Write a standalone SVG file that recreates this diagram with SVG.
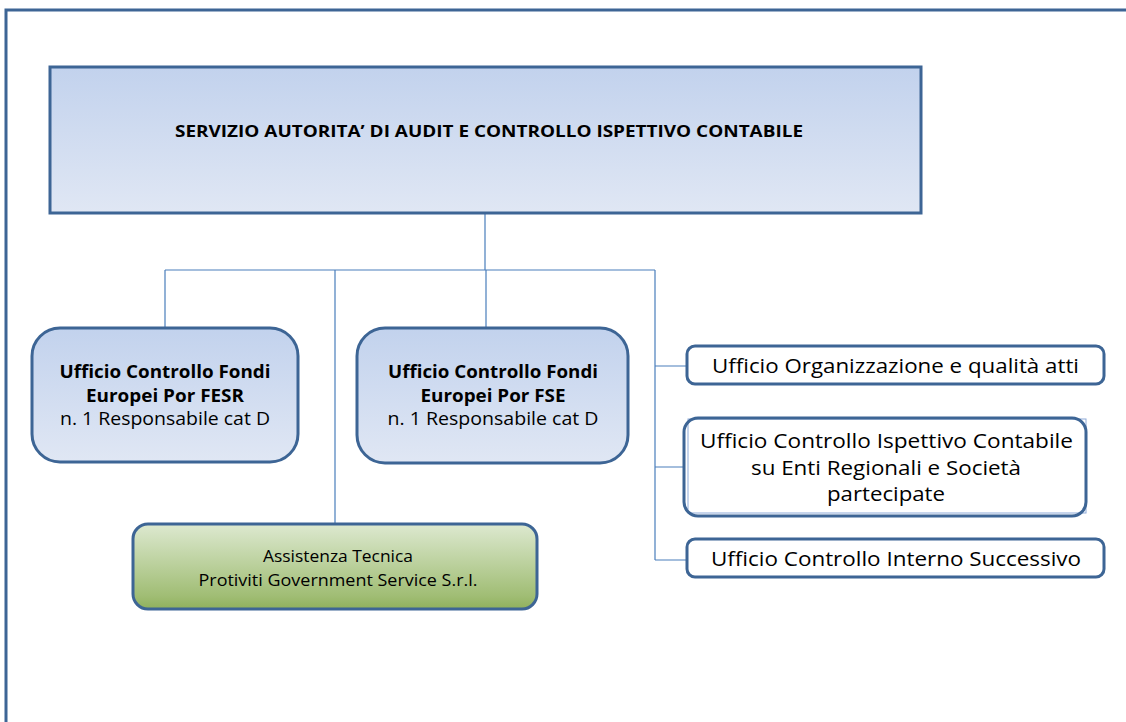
<svg xmlns="http://www.w3.org/2000/svg" width="1126" height="722" viewBox="0 0 1126 722">
<defs>
<linearGradient id="gBlue" x1="0" y1="0" x2="0" y2="1"><stop offset="0" stop-color="#c2d2ed"/><stop offset="1" stop-color="#e0e7f4"/></linearGradient>
<linearGradient id="gGreen" x1="0" y1="0" x2="0" y2="1"><stop offset="0" stop-color="#dde9d0"/><stop offset="0.85" stop-color="#a0bd74"/><stop offset="1" stop-color="#8fb05c"/></linearGradient>
<style>
.frame{fill:none;stroke:#3d6595;stroke-width:3}
.box{stroke:#3d6595;stroke-width:3}
.conn{fill:none;stroke:#4a7ebb;stroke-width:1.2}
.t{font-family:"Open Sans","Liberation Sans",sans-serif;fill:#000;text-anchor:middle}
.b{font-weight:bold}
</style>
</defs>
<rect width="1126" height="722" fill="#fff"/>
<rect class="frame" x="6" y="10" width="1140" height="730"/>
<g id="connectors">
<path class="conn" d="M485,213 V270 M165,270 H655 M165,270 V328 M335,270 V524 M486,270 V328 M655,270 V560 M655,366 H687 M655,467 H684 M655,560 H687"/>
</g>
<g id="n-servizio">
<rect class="box" x="50" y="67" width="871" height="146" fill="url(#gBlue)"/>
<text class="t b" x="489" y="137" font-size="16.5" textLength="628" lengthAdjust="spacingAndGlyphs">SERVIZIO AUTORITA’ DI AUDIT E CONTROLLO ISPETTIVO CONTABILE</text>
</g>
<g id="n-fesr">
<rect class="box" x="32" y="328" width="266" height="134" rx="28" fill="url(#gBlue)"/>
<text class="t b" x="165" y="378" font-size="17.5" textLength="211" lengthAdjust="spacingAndGlyphs">Ufficio Controllo Fondi</text>
<text class="t b" x="165" y="402" font-size="17.5" textLength="158" lengthAdjust="spacingAndGlyphs">Europei Por FESR</text>
<text class="t" x="165" y="425" font-size="17.5" textLength="210" lengthAdjust="spacingAndGlyphs">n. 1 Responsabile cat D</text>
</g>
<g id="n-fse">
<rect class="box" x="357" y="328" width="271" height="135" rx="28" fill="url(#gBlue)"/>
<text class="t b" x="493" y="378" font-size="17.5" textLength="210" lengthAdjust="spacingAndGlyphs">Ufficio Controllo Fondi</text>
<text class="t b" x="493" y="402" font-size="17.5" textLength="145" lengthAdjust="spacingAndGlyphs">Europei Por FSE</text>
<text class="t" x="493" y="425" font-size="17.5" textLength="211" lengthAdjust="spacingAndGlyphs">n. 1 Responsabile cat D</text>
</g>
<g id="n-assistenza">
<rect class="box" x="133" y="524" width="404" height="85" rx="15" fill="url(#gGreen)"/>
<text class="t" x="338" y="562" font-size="16.5" textLength="150" lengthAdjust="spacingAndGlyphs">Assistenza Tecnica</text>
<text class="t" x="338" y="586" font-size="16.5" textLength="279" lengthAdjust="spacingAndGlyphs">Protiviti Government Service S.r.l.</text>
</g>
<g id="n-organizzazione">
<rect class="box" x="687" y="346" width="417" height="38" rx="8" fill="#fff"/>
<text class="t" x="895.5" y="373" font-size="20" textLength="367" lengthAdjust="spacingAndGlyphs">Ufficio Organizzazione e qualità atti</text>
</g>
<g id="n-ispettivo">
<rect x="688" y="419" width="398" height="94" fill="none" stroke="#8eaad8" stroke-width="1"/>
<rect class="box" x="684" y="418" width="402" height="98" rx="14" fill="none"/>
<text class="t" x="886.5" y="448" font-size="20" textLength="373" lengthAdjust="spacingAndGlyphs">Ufficio Controllo Ispettivo Contabile</text>
<text class="t" x="886" y="475" font-size="20" textLength="270" lengthAdjust="spacingAndGlyphs">su Enti Regionali e Società</text>
<text class="t" x="886" y="501" font-size="20" textLength="118" lengthAdjust="spacingAndGlyphs">partecipate</text>
</g>
<g id="n-interno">
<rect class="box" x="687" y="539" width="417" height="38" rx="8" fill="#fff"/>
<text class="t" x="896" y="566" font-size="20" textLength="370" lengthAdjust="spacingAndGlyphs">Ufficio Controllo Interno Successivo</text>
</g>
</svg>
